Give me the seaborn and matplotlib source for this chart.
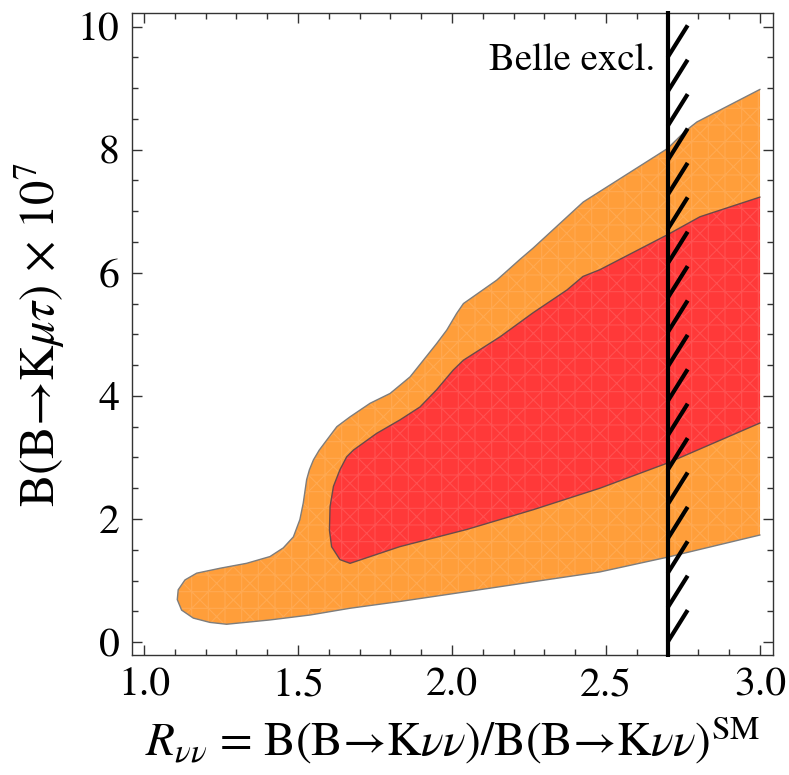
import numpy as np
import matplotlib
matplotlib.use("Agg")
import matplotlib.pyplot as plt
from matplotlib.ticker import MultipleLocator, FormatStrFormatter
import seaborn as sns

# Outer (orange) allowed region, traced from the upper edge at R=3 round the tail and back along the lower edge
outer_r = [3.000, 2.795, 2.757, 2.700, 2.426, 2.263, 2.221, 2.145, 2.037, 2.015, 1.983,
           1.950, 1.907, 1.864, 1.799, 1.734, 1.669, 1.626, 1.593, 1.569, 1.550, 1.537,
           1.528, 1.517, 1.506, 1.485, 1.452, 1.409, 1.333, 1.247, 1.171, 1.133, 1.111,
           1.108, 1.122, 1.160, 1.214, 1.268, 1.409, 1.539, 1.669, 1.831, 2.048, 2.263,
           2.480, 2.700, 3.000]
outer_b = [8.98, 8.45, 8.30, 8.02, 7.15, 6.40, 6.22, 5.88, 5.50, 5.34, 5.07,
           4.85, 4.58, 4.31, 4.04, 3.88, 3.66, 3.50, 3.28, 3.12, 2.96, 2.80,
           2.64, 2.26, 1.99, 1.71, 1.53, 1.39, 1.28, 1.20, 1.12, 1.01, 0.85,
           0.69, 0.52, 0.39, 0.32, 0.29, 0.36, 0.44, 0.55, 0.66, 0.82, 0.98,
           1.14, 1.38, 1.74]

# Inner (red) region
inner_r = [3.000, 2.805, 2.700, 2.480, 2.425, 2.373, 2.263, 2.156, 2.037, 2.004, 1.950,
           1.896, 1.831, 1.755, 1.680, 1.658, 1.636, 1.615, 1.604, 1.602, 1.609, 1.636,
           1.669, 1.830, 2.048, 2.263, 2.480, 2.700, 3.000]
inner_b = [7.23, 6.91, 6.62, 6.05, 5.94, 5.72, 5.35, 4.96, 4.58, 4.42, 4.10,
           3.82, 3.61, 3.39, 3.12, 3.01, 2.80, 2.53, 2.20, 1.82, 1.55, 1.34,
           1.28, 1.55, 1.83, 2.15, 2.50, 2.91, 3.56]

belle_r = 2.7
x_ticks = [1.0, 1.5, 2.0, 2.5, 3.0]
y_ticks = [0, 2, 4, 6, 8, 10]

sns.set_style("ticks")
plt.rcParams["font.family"] = ["STIXGeneral", "DejaVu Serif"]
plt.rcParams["mathtext.fontset"] = "stix"
plt.rcParams["text.color"] = "black"
plt.rcParams["axes.labelcolor"] = "black"
plt.rcParams["xtick.labelcolor"] = "black"
plt.rcParams["ytick.labelcolor"] = "black"
plt.rcParams["hatch.linewidth"] = 0.8

ORANGE = "#FF9E3A"
RED = "#FF3939"
FRAME = "#333333"

fig = plt.figure(figsize=(7.89, 7.75), dpi=100)
ax = fig.add_axes([0.1673, 0.1548, 0.8124, 0.8284])

# filled regions with a faint mesh texture
ax.fill(outer_r, outer_b, facecolor=ORANGE, lw=0, zorder=1)
ax.fill(outer_r, outer_b, facecolor="none", edgecolor=(1, 1, 1, 0.12), hatch="x+", lw=0, zorder=1.1)
ax.fill(inner_r, inner_b, facecolor=RED, lw=0, zorder=2)
ax.fill(inner_r, inner_b, facecolor="none", edgecolor=(1, 1, 1, 0.12), hatch="x+", lw=0, zorder=2.1)

# contour outlines (open at R = 3)
sns.lineplot(x=outer_r, y=outer_b, sort=False, estimator=None, color="#7d7d7d", lw=1.0, ax=ax,
             zorder=3, solid_joinstyle="round")
sns.lineplot(x=inner_r, y=inner_b, sort=False, estimator=None, color="#6a4a4a", lw=1.0, ax=ax,
             zorder=3, solid_joinstyle="round")

# Belle exclusion line with hatch marks
ax.plot([belle_r, belle_r], [-0.25, 10.25], color="black", lw=3.0, solid_capstyle="butt",
        zorder=5, clip_on=False)
for yb in np.linspace(0.0, 9.5, 18):
    ax.plot([belle_r, belle_r + 0.065], [yb, yb + 0.52], color="black", lw=3.0,
            solid_capstyle="butt", zorder=5)
ax.text(belle_r - 0.041, 9.29, "Belle excl.", ha="right", va="baseline", fontsize=28, zorder=6)

ax.set_xlim(0.961, 3.042)
ax.set_ylim(-0.21, 10.22)
ax.set_xticks(x_ticks)
ax.set_yticks(y_ticks)
ax.xaxis.set_major_formatter(FormatStrFormatter("%.1f"))
ax.yaxis.set_major_formatter(FormatStrFormatter("%d"))
ax.xaxis.set_minor_locator(MultipleLocator(0.1))
ax.yaxis.set_minor_locator(MultipleLocator(0.5))
ax.tick_params(which="both", direction="in", top=True, right=True, color=FRAME, width=1.0)
ax.tick_params(which="major", length=7, labelsize=30, pad=9)
ax.tick_params(which="minor", length=4)
for s in ax.spines.values():
    s.set_color(FRAME)
    s.set_linewidth(1.0)

ax.set_xlabel(r"$R_{\nu\nu}$ = B(B→K$\nu\nu$)/B(B→K$\nu\nu$)$^{\mathrm{SM}}$", fontsize=34, labelpad=7)
ax.set_ylabel(r"B(B→K$\mu\tau$) × 10$^{7}$", fontsize=35, labelpad=8)

fig.savefig("out.png", dpi=100)
